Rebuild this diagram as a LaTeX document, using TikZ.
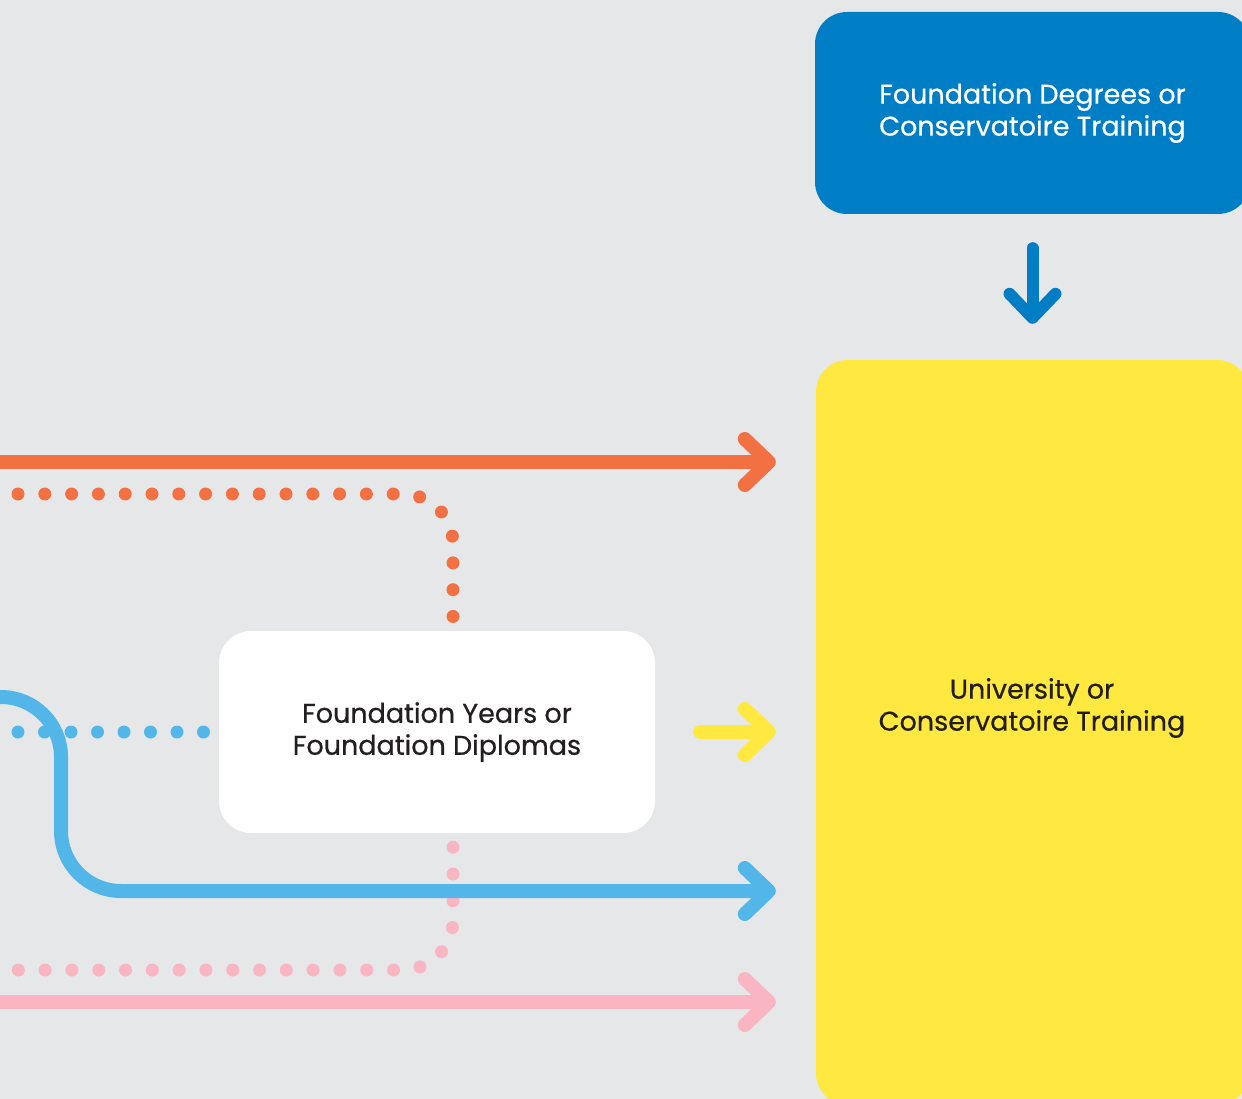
\documentclass[tikz,border=0pt]{standalone}
\usepackage{fontspec}
\setmainfont{Poppins}[FakeBold=0.6]
\usetikzlibrary{arrows.meta}

\definecolor{bgrey}{HTML}{E6E7E9}
\definecolor{dblue}{HTML}{007EC5}
\definecolor{lblue}{HTML}{52B7E8}
\definecolor{uyellow}{HTML}{FFE83F}
\definecolor{orng}{HTML}{F37042}
\definecolor{pnk}{HTML}{F9B5C2}
\definecolor{ink}{HTML}{231F20}

\begin{document}
\begin{tikzpicture}[x=1pt,y=-1pt,>={Straight Barb[length=24pt,width=46pt,round]},
                    box/.style={rounded corners=32pt,inner sep=0pt,align=center,
                                font=\fontsize{27}{32}\selectfont},
                    flow/.style={->,line width=14pt},
                    dots/.style={line width=13pt,line cap=round,dash pattern=on 0pt off 26.8pt}]

  \fill[bgrey] (0,0) rectangle (1242,1099);
  \useasboundingbox (0,0) rectangle (1242,1099);

  % boxes
  \node[box,fill=dblue,text=white,minimum width=435pt,minimum height=202pt] (fd) at (1032.5,113)
       {Foundation Degrees or\\Conservatoire Training};
  \node[box,fill=uyellow,minimum width=433pt,minimum height=745pt] (uni) at (1032.5,732.5) {};
  \node[box,text=ink] (unitext) at (1032,708) {University or\\Conservatoire Training};
  \node[box,fill=white,text=ink,minimum width=436pt,minimum height=202pt] (fy) at (437,732)
       {Foundation Years or\\Foundation Diplomas};

  % free ends at the left edge
  \coordinate (oline) at (-10,462);
  \coordinate (odots) at (18,494);
  \coordinate (bline) at (-10,697);
  \coordinate (bdots) at (18,732);
  \coordinate (pdots) at (18,970);
  \coordinate (pline) at (-10,1002);

  % dotted routes through the foundation year
  \draw[dots,orng,rounded corners=50pt,shorten >=14pt] (odots) -| ([xshift=16pt]fy.north);
  \draw[dots,lblue,dash pattern=on 0pt off 26.5pt,shorten >=15pt] (bdots) -- (fy.west);
  \draw[dots,pnk,rounded corners=50pt,shorten <=14pt] ([xshift=16pt]fy.south) |- (pdots);

  % solid routes
  \draw[flow,orng,shorten >=40pt] (oline) -- (oline -| uni.west);
  \draw[flow,lblue,rounded corners=60pt,shorten >=40pt] (bline) -- (61,697) -- (61,891) -- (61,891 -| uni.west);
  \draw[flow,pnk,shorten >=40pt] (pline) -- (pline -| uni.west);
  \draw[flow,uyellow,line cap=round,shorten <=45pt,shorten >=40pt] (fy.east) -- (fy.east -| uni.west);
  \draw[flow,dblue,line width=12pt,line cap=round,shorten <=34pt,shorten >=36pt] (fd.south) -- (uni.north);
\end{tikzpicture}
\end{document}
